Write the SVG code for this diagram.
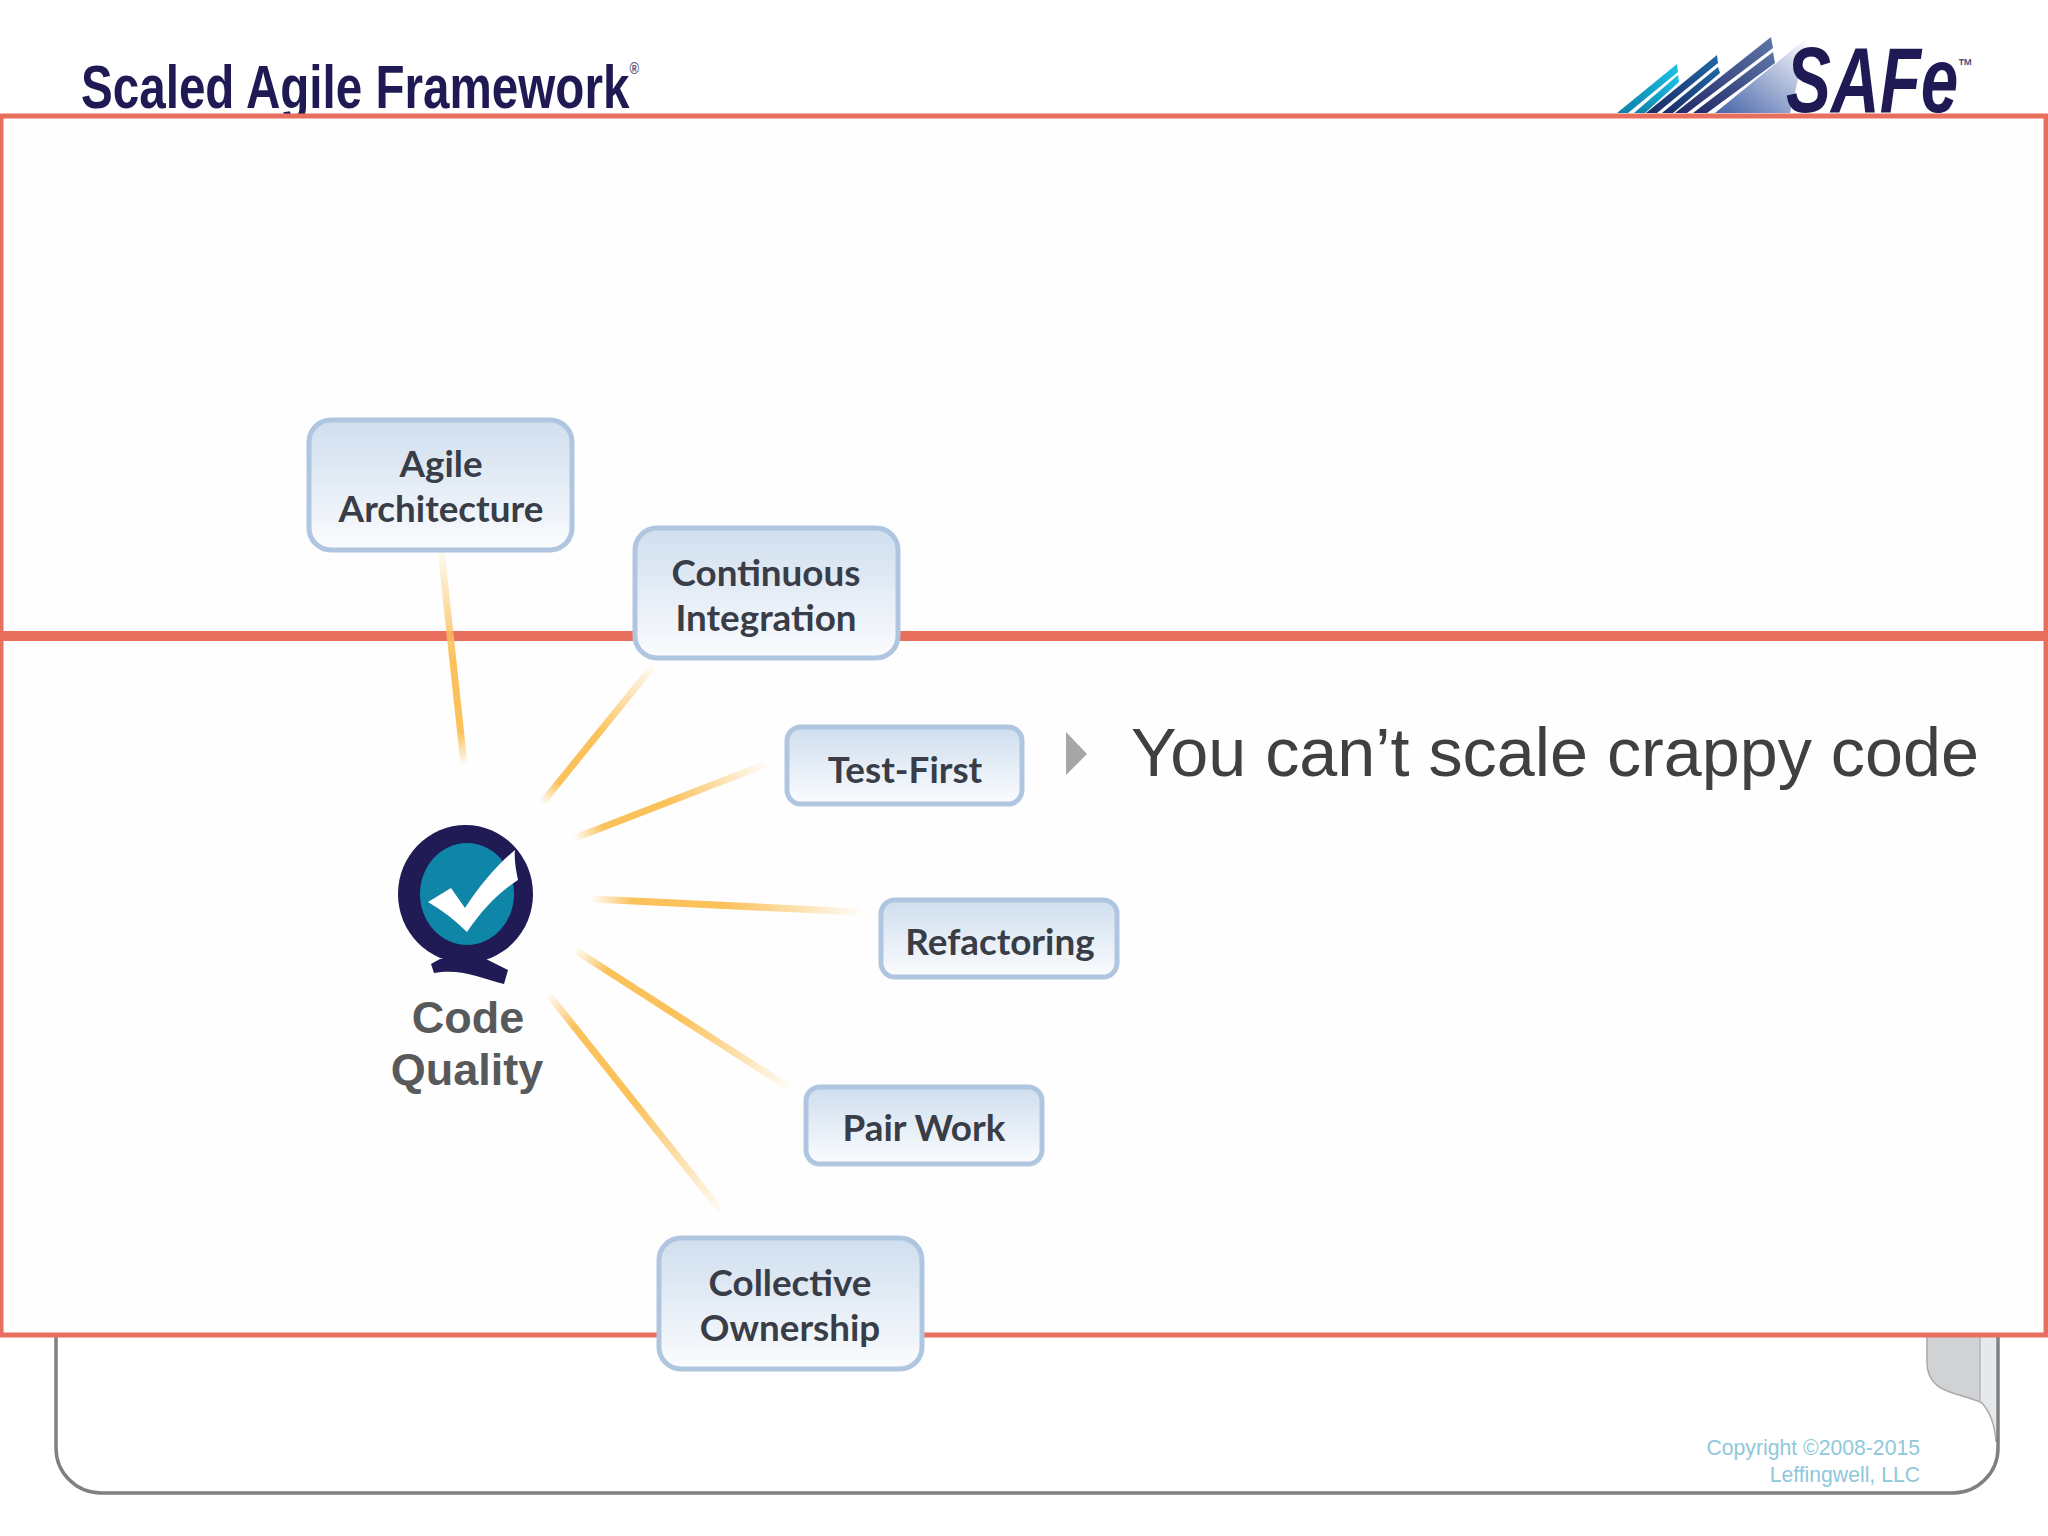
<svg xmlns="http://www.w3.org/2000/svg" xmlns:xlink="http://www.w3.org/1999/xlink" width="2048" height="1536" viewBox="0 0 2048 1536">
<style>
.box{fill:url(#boxFill);stroke:#b0c6e0;stroke-width:5}
.lbl{font-family:"Lato","Carlito","Liberation Sans",sans-serif;font-weight:700;font-size:36.800px;fill:#383d47;text-anchor:middle}
.conn{stroke-width:7;fill:none}
.cq{font-family:"Liberation Sans",Arial,sans-serif;font-weight:700;font-size:45px;fill:#58595b;text-anchor:middle}
.copy{font-family:"Liberation Sans",Arial,sans-serif;font-size:21.200px;fill:#8fc8da;text-anchor:end}
</style>
<defs>
<linearGradient id="boxFill" x1="0" y1="0" x2="0" y2="1"><stop offset="0" stop-color="#cfdeee"/><stop offset="1" stop-color="#fbfcfe"/></linearGradient>
<linearGradient id="fade"><stop offset="0" stop-color="#fbc25c" stop-opacity=".05"/><stop offset=".5" stop-color="#fbc25c"/><stop offset=".85" stop-color="#fbc25c"/><stop offset="1" stop-color="#fbc25c" stop-opacity=".05"/></linearGradient>
<linearGradient id="g1" xlink:href="#fade" gradientUnits="userSpaceOnUse" x1="441" y1="550" x2="464" y2="764"/>
<linearGradient id="g2" xlink:href="#fade" gradientUnits="userSpaceOnUse" x1="653" y1="666" x2="542" y2="803"/>
<linearGradient id="g3" xlink:href="#fade" gradientUnits="userSpaceOnUse" x1="764" y1="765" x2="575" y2="838"/>
<linearGradient id="g4" xlink:href="#fade" gradientUnits="userSpaceOnUse" x1="859" y1="912" x2="592" y2="899"/>
<linearGradient id="g5" xlink:href="#fade" gradientUnits="userSpaceOnUse" x1="788" y1="1087" x2="575" y2="950"/>
<linearGradient id="g6" xlink:href="#fade" gradientUnits="userSpaceOnUse" x1="721" y1="1211" x2="549" y2="995"/>
<linearGradient id="cyan" x1="0" y1="1" x2="1" y2="0"><stop offset="0" stop-color="#0d7fa6"/><stop offset="1" stop-color="#1cc4e8"/></linearGradient>
<linearGradient id="blue" x1="0" y1="1" x2="1" y2="0"><stop offset="0" stop-color="#1d2a66"/><stop offset="1" stop-color="#1f6aa5"/></linearGradient>
<linearGradient id="slate" x1="0" y1="1" x2="1" y2="0"><stop offset="0" stop-color="#222a68"/><stop offset="1" stop-color="#5f76a8"/></linearGradient>
<linearGradient id="sail" x1="0" y1="1" x2="1" y2="0"><stop offset="0" stop-color="#4563a8"/><stop offset="1" stop-color="#ffffff"/></linearGradient>
</defs>
<rect width="2048" height="1536" fill="#ffffff"/>
<g id="page-frame">
<path d="M1927 1330V1362C1927 1395 1960 1392 1982 1403C1990 1412 1995 1425 1996 1442V1330Z" fill="#d1d2d4"/>
<path d="M1980 1330V1402C1990 1412 1995 1425 1996 1442V1330Z" fill="#e7e8ea"/>
<path d="M1927 1330V1362C1927 1395 1960 1392 1982 1403C1990 1412 1995 1425 1996 1442" fill="none" stroke="#a9aaac" stroke-width="1.500"/>
<line x1="1980" y1="1330" x2="1980" y2="1402" stroke="#b5b6b8" stroke-width="1.500"/>
<path d="M56 1330V1448A45 45 0 0 0 101 1493H1953A45 45 0 0 0 1998 1448V1330" fill="none" stroke="#7f8083" stroke-width="3.500"/>
<text class="copy" x="1920" y="1455">Copyright ©2008-2015</text>
<text class="copy" x="1920" y="1482">Leffingwell, LLC</text>
</g>
<g id="header">
<text x="81" y="108" font-family="Liberation Sans,Arial,sans-serif" font-weight="700" font-size="62" fill="#1f1a54" textLength="558" lengthAdjust="spacingAndGlyphs">Scaled Agile Framework<tspan font-size="17" dy="-34" fill="#55527a">®</tspan></text>
<g id="safe-logo">
<polygon points="1808,37 1790,113 1715,113" fill="url(#sail)"/>
<polygon points="1677,64 1678,72 1628,113 1617,113" fill="url(#cyan)"/>
<polygon points="1678,75 1679,82 1645,113 1634,113" fill="url(#cyan)"/>
<polygon points="1717,55 1718,63 1657,113 1646,113" fill="url(#blue)"/>
<polygon points="1718,67 1720,73 1673,113 1662,113" fill="url(#blue)"/>
<polygon points="1771,37 1773,48 1687,113 1675,113" fill="url(#slate)"/>
<polygon points="1773,52 1775,63 1707,113 1693,113" fill="url(#slate)"/>
<text x="1786" y="112" font-family="Liberation Sans,Arial,sans-serif" font-weight="700" font-style="italic" font-size="92" fill="#1f1a54" textLength="187" lengthAdjust="spacingAndGlyphs">SAFe<tspan font-size="20" dy="-39" font-style="normal" fill="#55527a">™</tspan></text>
</g>
</g>
<g id="red-frame" fill="none" stroke="#e86f5e">
<rect x="1" y="116" width="2045" height="1219" fill="#fefefe" stroke-width="5"/>
<line x1="0" y1="636" x2="2048" y2="636" stroke-width="10"/>
</g>
<g id="connectors" class="connectors">
<line class="conn" stroke="url(#g1)" x1="441" y1="550" x2="464" y2="764"/>
<line class="conn" stroke="url(#g2)" x1="653" y1="666" x2="542" y2="803"/>
<line class="conn" stroke="url(#g3)" x1="764" y1="765" x2="575" y2="838"/>
<line class="conn" stroke="url(#g4)" x1="859" y1="912" x2="592" y2="899"/>
<line class="conn" stroke="url(#g5)" x1="788" y1="1087" x2="575" y2="950"/>
<line class="conn" stroke="url(#g6)" x1="721" y1="1211" x2="549" y2="995"/>
</g>
<g id="node-code-quality">
<path d="M431 964L440 959H486L508 970L504 984C482 979 462 968 434 973Z" fill="#201a55"/>
<ellipse cx="465.500" cy="894" rx="67.500" ry="69" fill="#201a55"/>
<ellipse cx="467" cy="894" rx="47" ry="51" fill="#0f86a8"/>
<path d="M428 902L451 888L465 908C480 885 497 865 515 850C514 860 516 870 518 880C498 893 482 910 467 932C455 920 442 910 428 902Z" fill="#ffffff"/>
<text class="cq" x="468" y="1033">Code</text>
<text class="cq" x="467" y="1085">Quality</text>
</g>
<g id="node-agile-architecture"><rect class="box" x="309" y="420" width="263" height="130" rx="22"/><text class="lbl" x="441" y="477">Agile</text><text class="lbl" x="441" y="522">Architecture</text></g>
<g id="node-continuous-integration"><rect class="box" x="635" y="528" width="263" height="130" rx="22"/><text class="lbl" x="766" y="586">Continuous</text><text class="lbl" x="766" y="631">Integration</text></g>
<g id="node-test-first"><rect class="box" x="787" y="727" width="235" height="77" rx="14"/><text class="lbl" x="905" y="783">Test-First</text></g>
<g id="node-refactoring"><rect class="box" x="881" y="900" width="236" height="77" rx="14"/><text class="lbl" x="1000" y="955">Refactoring</text></g>
<g id="node-pair-work"><rect class="box" x="806" y="1087" width="236" height="77" rx="14"/><text class="lbl" x="924" y="1141">Pair Work</text></g>
<g id="node-collective-ownership"><rect class="box" x="659" y="1238" width="263" height="131" rx="22"/><text class="lbl" x="790" y="1296">Collective</text><text class="lbl" x="790" y="1341">Ownership</text></g>
<g id="statement">
<polygon points="1066,732 1087,754 1066,775" fill="#a6a6a6"/>
<text x="1131" y="776" font-family="Liberation Sans,Arial,sans-serif" font-size="68.300" fill="#404040">You can’t scale crappy code</text>
</g>
</svg>
